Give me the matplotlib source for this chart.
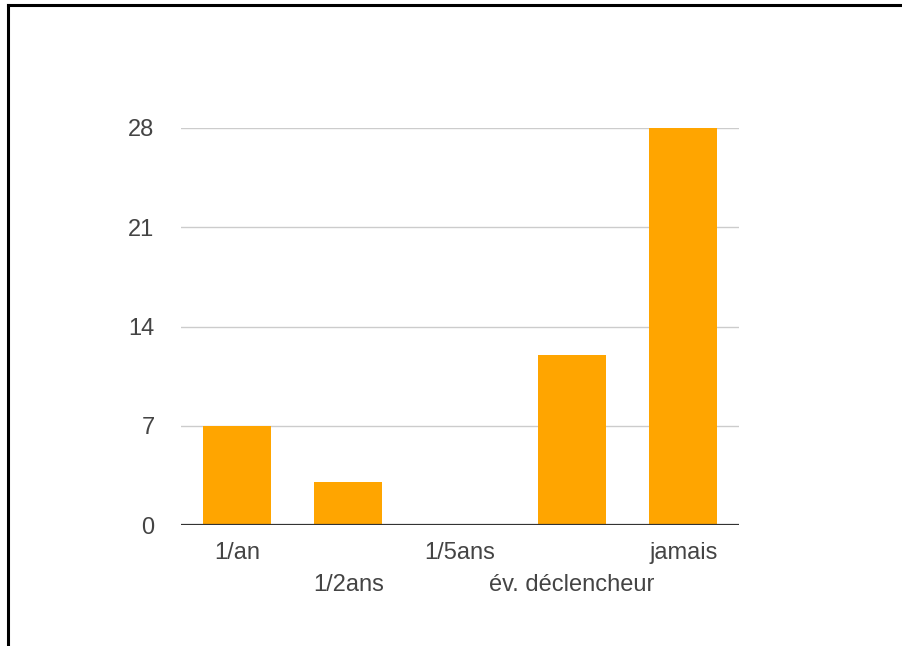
import matplotlib.pyplot as plt
from matplotlib.lines import Line2D

categories = ['1/an', '1/2ans', '1/5ans', 'év. déclencheur', 'jamais']
counts = [7, 3, 0, 12, 28]
y_ticks = [0, 7, 14, 21, 28]

plt.rcParams['font.family'] = ['Liberation Sans', 'DejaVu Sans']

fig = plt.figure(figsize=(9.03, 6.46), dpi=100)
ax = fig.add_axes([181 / 903, 1 - 525 / 646, 558 / 903, (525 - 128) / 646])

x = list(range(len(categories)))
ax.bar(x, counts, width=0.61, color='#FFA500', zorder=2)

ax.set_xlim(-0.5, len(categories) - 0.5)
ax.set_ylim(0, 28)
ax.set_yticks(y_ticks)
ax.set_xticks(x)
ax.set_xticklabels(categories)

for s in ax.spines.values():
    s.set_visible(False)
ax.axhline(0, color='#333333', lw=1.6, zorder=3)
for t in y_ticks[1:]:
    ax.axhline(t, color='#cccccc', lw=1.0, zorder=1)

ax.tick_params(axis='both', length=0, labelsize=17, labelcolor='#444444')
ax.tick_params(axis='y', pad=19)
for i, tick in enumerate(ax.xaxis.get_major_ticks()):
    tick.set_pad(12 if i % 2 == 0 else 35)

# border lines of the original screenshot
fig.add_artist(Line2D([8 / 903, 1], [1 - 5 / 646, 1 - 5 / 646], color='black', lw=2.2,
                      transform=fig.transFigure))
fig.add_artist(Line2D([8 / 903, 8 / 903], [0, 1 - 5 / 646], color='black', lw=2.2,
                      transform=fig.transFigure))

fig.savefig('out.png', dpi=100)
